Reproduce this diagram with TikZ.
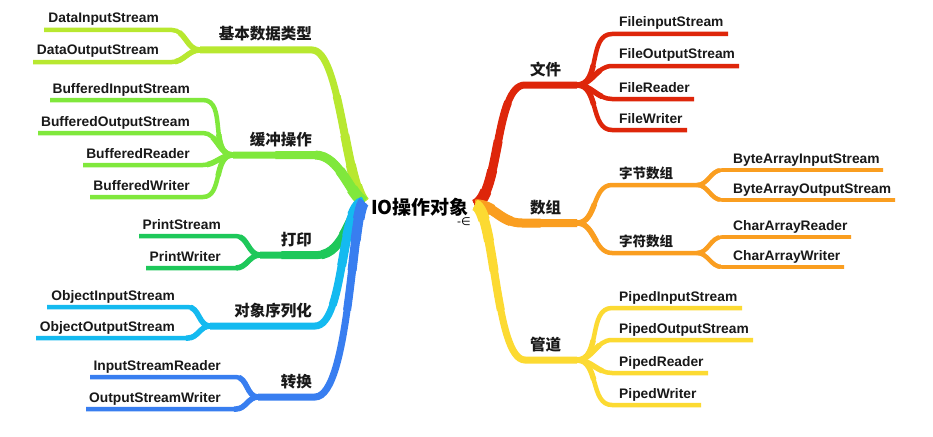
\documentclass[tikz,border=0pt]{standalone}
\usepackage{fontspec}
\setmainfont{Liberation Sans}
\newfontfamily\cjk{Noto Sans CJK SC}
\newfontfamily\symf{DejaVu Sans}
\definecolor{cA}{RGB}{184,232,48}
\definecolor{cB}{RGB}{128,232,60}
\definecolor{cC}{RGB}{30,200,90}
\definecolor{cD}{RGB}{20,186,240}
\definecolor{cE}{RGB}{56,126,240}
\definecolor{cF}{RGB}{222,38,10}
\definecolor{cG}{RGB}{250,158,32}
\definecolor{cH}{RGB}{252,218,50}
\tikzset{
  leaf/.style={font=\bfseries\fontsize{13.8}{16}\selectfont, inner sep=0pt, text=black!90},
  lbl/.style={font=\cjk\bfseries\fontsize{15.5}{18}\selectfont, inner sep=0pt, text=black!90},
  sublbl/.style={font=\cjk\bfseries\fontsize{13.5}{16}\selectfont, inner sep=0pt, text=black!90},
}
% tapered branches: same path drawn with decreasing widths over decreasing lengths
\newcommand\mmtrunk[2]{\foreach \w/\l in {7/2000,8/110,9/70,10/40,11.5/18}{\draw[line width=\w pt,#1,dash pattern=on \l pt off 3000pt] #2;}}
\newcommand\mmtwig[2]{\draw[line width=4.5pt,#1] #2; \draw[line width=5.5pt,#1,dash pattern=on 28pt off 3000pt] #2;}
\newcommand\mmtwigs[2]{\draw[line width=3.6pt,#1] #2; \draw[line width=4.5pt,#1,dash pattern=on 28pt off 3000pt] #2;}
\begin{document}
\begin{tikzpicture}[x=1pt,y=-1pt]
\path[use as bounding box] (0,0) rectangle (933,436);
\fill[white] (0,0) rectangle (933,436);

\coordinate (rootL) at (364,202);
\coordinate (rootR) at (475,205);

% ---------- left: 基本数据类型
\coordinate (A) at (200,50);
\mmtrunk{cA}{(rootL) .. controls (345,180) and (340,50) .. (312,50) -- (A)}
\node[lbl,anchor=base east] (lA) at (312,40) {基本数据类型};
\coordinate (A1s) at (172,30); \coordinate (A1e) at (44,30);
\mmtwig{cA}{(A) to[out=180,in=0] (A1s) -- (A1e)}
\node[leaf,anchor=base east] (A1) at (159,23) {DataInputStream};
\coordinate (A2s) at (172,62); \coordinate (A2e) at (33,62);
\mmtwig{cA}{(A) to[out=180,in=0] (A2s) -- (A2e)}
\node[leaf,anchor=base east] (A2) at (159,55) {DataOutputStream};

% ---------- left: 缓冲操作
\coordinate (B) at (233,155);
\mmtrunk{cB}{(rootL) .. controls (350,195) and (340,155) .. (315,155) -- (B)}
\node[lbl,anchor=base east] (lB) at (312,145) {缓冲操作};
\coordinate (B1s) at (203,100); \coordinate (B1e) at (50,100);
\mmtwig{cB}{(B) to[out=180,in=0] (B1s) -- (B1e)}
\node[leaf,anchor=base east] (B1) at (190,93) {BufferedInputStream};
\coordinate (B2s) at (203,133); \coordinate (B2e) at (38,133);
\mmtwig{cB}{(B) to[out=180,in=0] (B2s) -- (B2e)}
\node[leaf,anchor=base east] (B2) at (190,126) {BufferedOutputStream};
\coordinate (B3s) at (203,165); \coordinate (B3e) at (83,165);
\mmtwig{cB}{(B) to[out=180,in=0] (B3s) -- (B3e)}
\node[leaf,anchor=base east] (B3) at (190,158) {BufferedReader};
\coordinate (B4s) at (203,197); \coordinate (B4e) at (90,197);
\mmtwig{cB}{(B) to[out=180,in=0] (B4s) -- (B4e)}
\node[leaf,anchor=base east] (B4) at (190,190) {BufferedWriter};

% ---------- left: 打印
\coordinate (C) at (260,255);
\mmtrunk{cC}{(rootL) .. controls (352,205) and (345,255) .. (318,255) -- (C)}
\node[lbl,anchor=base east] (lC) at (312,245) {打印};
\coordinate (C1s) at (236,236); \coordinate (C1e) at (139,236);
\mmtwig{cC}{(C) to[out=180,in=0] (C1s) -- (C1e)}
\node[leaf,anchor=base east] (C1) at (221,229) {PrintStream};
\coordinate (C2s) at (236,268); \coordinate (C2e) at (146,268);
\mmtwig{cC}{(C) to[out=180,in=0] (C2s) -- (C2e)}
\node[leaf,anchor=base east] (C2) at (221,261) {PrintWriter};

% ---------- left: 对象序列化
\coordinate (D) at (210,326);
\mmtrunk{cD}{(rootL) .. controls (340,205) and (345,326) .. (315,326) -- (D)}
\node[lbl,anchor=base east] (lD) at (312,316) {对象序列化};
\coordinate (D1s) at (188,307); \coordinate (D1e) at (47,307);
\mmtwig{cD}{(D) to[out=180,in=0] (D1s) -- (D1e)}
\node[leaf,anchor=base east] (D1) at (175,300) {ObjectInputStream};
\coordinate (D2s) at (188,338); \coordinate (D2e) at (36,338);
\mmtwig{cD}{(D) to[out=180,in=0] (D2s) -- (D2e)}
\node[leaf,anchor=base east] (D2) at (175,331) {ObjectOutputStream};

% ---------- left: 转换
\coordinate (E) at (258,397);
\mmtrunk{cE}{(rootL) .. controls (352,210) and (350,397) .. (315,397) -- (E)}
\node[lbl,anchor=base east] (lE) at (312,387) {转换};
\coordinate (E1s) at (236,377); \coordinate (E1e) at (90,377);
\mmtwig{cE}{(E) to[out=180,in=0] (E1s) -- (E1e)}
\node[leaf,anchor=base east] (E1) at (221,370) {InputStreamReader};
\coordinate (E2s) at (236,409); \coordinate (E2e) at (86,409);
\mmtwig{cE}{(E) to[out=180,in=0] (E2s) -- (E2e)}
\node[leaf,anchor=base east] (E2) at (221,402) {OutputStreamWriter};

% ---------- right: 文件
\coordinate (F) at (577,85);
\mmtrunk{cF}{(rootR) .. controls (500,195) and (495,85) .. (525,85) -- (F)}
\node[lbl,anchor=base west] (lF) at (530,75) {文件};
\coordinate (F1s) at (612,34); \coordinate (F1e) at (728,34);
\mmtwig{cF}{(F) to[out=0,in=180] (F1s) -- (F1e)}
\node[leaf,anchor=base west] (F1) at (619,27) {FileinputStream};
\coordinate (F2s) at (612,66); \coordinate (F2e) at (739,66);
\mmtwig{cF}{(F) to[out=0,in=180] (F2s) -- (F2e)}
\node[leaf,anchor=base west] (F2) at (619,59) {FileOutputStream};
\coordinate (F3s) at (612,99); \coordinate (F3e) at (694,99);
\mmtwig{cF}{(F) to[out=0,in=180] (F3s) -- (F3e)}
\node[leaf,anchor=base west] (F3) at (619,92) {FileReader};
\coordinate (F4s) at (612,130); \coordinate (F4e) at (687,130);
\mmtwig{cF}{(F) to[out=0,in=180] (F4s) -- (F4e)}
\node[leaf,anchor=base west] (F4) at (619,123) {FileWriter};

% ---------- right: 数组
\coordinate (G) at (577,223);
\mmtrunk{cG}{(rootR) .. controls (495,205) and (500,223) .. (522,223) -- (G)}
\node[lbl,anchor=base west] (lG) at (530,213) {数组};
\coordinate (G1s) at (612,185); \coordinate (G1) at (697,185);
\mmtwig{cG}{(G) to[out=0,in=180] (G1s) -- (G1)}
\node[sublbl,anchor=base west] (lG1) at (619,178) {字节数组};
\coordinate (G1as) at (722,170); \coordinate (G1ae) at (883,170);
\mmtwigs{cG}{(G1) to[out=0,in=180] (G1as) -- (G1ae)}
\node[leaf,anchor=base west] (G1a) at (733,163) {ByteArrayInputStream};
\coordinate (G1bs) at (722,200); \coordinate (G1be) at (895,200);
\mmtwigs{cG}{(G1) to[out=0,in=180] (G1bs) -- (G1be)}
\node[leaf,anchor=base west] (G1b) at (733,193) {ByteArrayOutputStream};
\coordinate (G2s) at (612,253); \coordinate (G2) at (697,253);
\mmtwig{cG}{(G) to[out=0,in=180] (G2s) -- (G2)}
\node[sublbl,anchor=base west] (lG2) at (619,246) {字符数组};
\coordinate (G2as) at (722,237); \coordinate (G2ae) at (851,237);
\mmtwigs{cG}{(G2) to[out=0,in=180] (G2as) -- (G2ae)}
\node[leaf,anchor=base west] (G2a) at (733,230) {CharArrayReader};
\coordinate (G2bs) at (722,267); \coordinate (G2be) at (844,267);
\mmtwigs{cG}{(G2) to[out=0,in=180] (G2bs) -- (G2be)}
\node[leaf,anchor=base west] (G2b) at (733,260) {CharArrayWriter};

% ---------- right: 管道
\coordinate (H) at (577,360);
\mmtrunk{cH}{(rootR) .. controls (495,210) and (495,360) .. (525,360) -- (H)}
\node[lbl,anchor=base west] (lH) at (530,350) {管道};
\coordinate (H1s) at (612,308); \coordinate (H1e) at (742,308);
\mmtwig{cH}{(H) to[out=0,in=180] (H1s) -- (H1e)}
\node[leaf,anchor=base west] (H1) at (619,301) {PipedInputStream};
\coordinate (H2s) at (612,340); \coordinate (H2e) at (753,340);
\mmtwig{cH}{(H) to[out=0,in=180] (H2s) -- (H2e)}
\node[leaf,anchor=base west] (H2) at (619,333) {PipedOutputStream};
\coordinate (H3s) at (612,373); \coordinate (H3e) at (708,373);
\mmtwig{cH}{(H) to[out=0,in=180] (H3s) -- (H3e)}
\node[leaf,anchor=base west] (H3) at (619,366) {PipedReader};
\coordinate (H4s) at (612,405); \coordinate (H4e) at (701,405);
\mmtwig{cH}{(H) to[out=0,in=180] (H4s) -- (H4e)}
\node[leaf,anchor=base west] (H4) at (619,398) {PipedWriter};

% ---------- root
\node[font=\cjk\bfseries\fontsize{19}{22}\selectfont, inner sep=0pt, anchor=base, text=black] (root) at (420,214) {IO操作对象};
\node[font=\symf\fontsize{11}{12}\selectfont, inner sep=0pt] (mark) at (464,222) {-∈};
\end{tikzpicture}
\end{document}
